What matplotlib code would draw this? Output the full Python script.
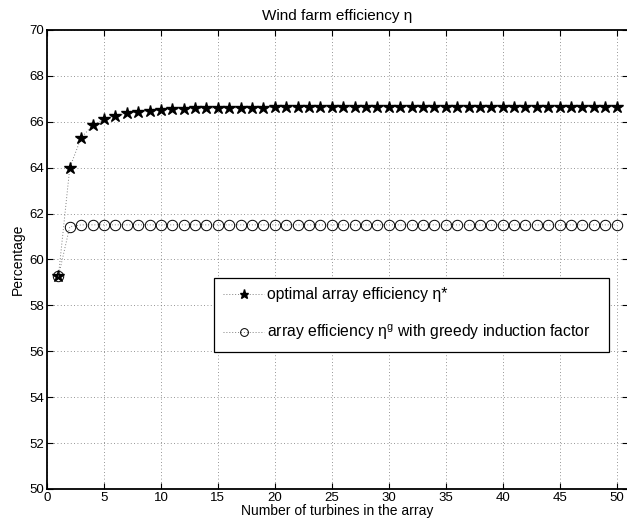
import matplotlib
matplotlib.use('Agg')
import matplotlib.pyplot as plt

plt.rcParams['font.family'] = ['Liberation Sans', 'DejaVu Sans']
plt.rcParams['mathtext.default'] = 'regular'

# jumlah turbin
n_turbin = list(range(1, 51))

# efisiensi optimal (persen)
eta_opt = [59.26, 64.00, 65.31, 65.84, 66.12, 66.27, 66.37, 66.44, 66.48, 66.52,
           66.54, 66.56, 66.58, 66.59, 66.60, 66.61, 66.61, 66.62, 66.62, 66.63,
           66.63, 66.63, 66.64, 66.64, 66.64, 66.64, 66.64, 66.65, 66.65, 66.65,
           66.65, 66.65, 66.65, 66.65, 66.65, 66.65, 66.66, 66.66, 66.66, 66.66,
           66.66, 66.66, 66.66, 66.66, 66.66, 66.66, 66.66, 66.66, 66.66, 66.66]

# efisiensi greedy (persen)
eta_greedy = [59.26, 61.43] + [61.51] * 48

fig = plt.figure(figsize=(6.27, 5.26), dpi=100)
ax = fig.add_axes([47 / 627, 37 / 526, 581 / 627, 459 / 526])

ax.plot(n_turbin, eta_opt, linestyle=(0, (1, 2)), color='0.5', linewidth=0.7,
        marker='*', markersize=9, markerfacecolor='black', markeredgecolor='black',
        label='optimal array efficiency η*')
ax.plot(n_turbin, eta_greedy, linestyle=(0, (1, 2)), color='0.5', linewidth=0.7,
        marker='o', markersize=7.5, markerfacecolor='none', markeredgecolor='black',
        markeredgewidth=0.7,
        label='array efficiency η$^{g}$ with greedy induction factor')

ax.set_xlim(0, 51)
ax.set_ylim(50, 70)
ax.set_xticks(range(0, 51, 5))
ax.set_yticks(range(50, 71, 2))
ax.tick_params(direction='in', top=True, right=True, labelsize=9.5, length=4, width=0.8, pad=2)
ax.grid(True, linestyle=(0, (1, 3)), color='0.45', linewidth=0.6)
for s in ax.spines.values():
    s.set_linewidth(1.3)

ax.set_title('Wind farm efficiency η', fontsize=11, pad=7)
ax.set_xlabel('Number of turbines in the array', fontsize=10, labelpad=0)
ax.set_ylabel('Percentage', fontsize=10, labelpad=3)

leg = ax.legend(loc='upper center', bbox_to_anchor=(0.287, 0.2985, 0.68, 0.1612), mode='expand',
                borderaxespad=0, fontsize=11.3, fancybox=False, framealpha=1, edgecolor='black',
                borderpad=0.6, labelspacing=1.3, handlelength=2.6, handletextpad=0.2,
                markerscale=0.75)
leg.get_frame().set_linewidth(0.9)

fig.savefig('out.png', dpi=100)
